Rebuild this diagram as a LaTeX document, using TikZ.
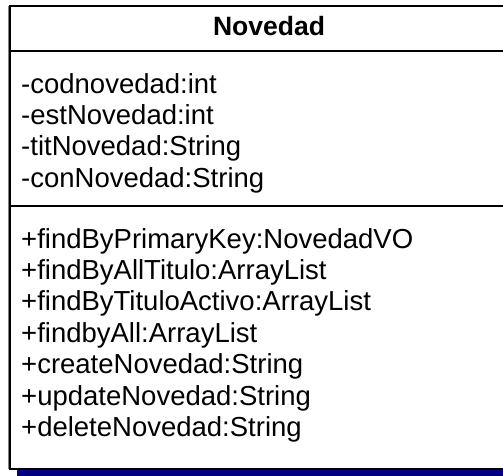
\documentclass[tikz,border=0pt]{standalone}
\usepackage{fontspec}
\setmainfont{Liberation Sans}
\definecolor{shadowblue}{RGB}{0,0,128}
\tikzset{
  member/.style={anchor=base west, inner sep=0pt, font=\fontsize{27.5}{31.4}\selectfont},
  titletext/.style={anchor=base, inner sep=0pt, font=\fontsize{26.5}{31.4}\selectfont\bfseries},
  border/.style={draw=black, line width=2pt},
}
\begin{document}
\begin{tikzpicture}[x=1pt,y=-1pt]
\clip (0,0) rectangle (503,475);
\fill[white] (0,0) rectangle (503,475);
% shadow
\fill[shadowblue] (17,470.2) rectangle (540,476);
% box
\draw[border, fill=white] (10,5.5) rectangle (530,468.5);
\draw[border] (10,51) -- (530,51);
\draw[border] (10,206) -- (530,206);
\draw[gray, line width=0.6pt] (8.6,5.5) -- (8.6,468.5);
% title
\node[titletext] (title) at (269,35) {Novedad};
% attributes
\node[member] (a1) at (21,93) {-codnovedad:int};
\node[member] (a2) at (21,124.4) {-estNovedad:int};
\node[member] (a3) at (21,155.8) {-titNovedad:String};
\node[member] (a4) at (21,187.2) {-conNovedad:String};
% methods
\node[member] (m1) at (21,248) {+findByPrimaryKey:NovedadVO};
\node[member] (m2) at (21,279.4) {+findByAllTitulo:ArrayList};
\node[member] (m3) at (21,310.8) {+findByTituloActivo:ArrayList};
\node[member] (m4) at (21,342.2) {+findbyAll:ArrayList};
\node[member] (m5) at (21,373.6) {+createNovedad:String};
\node[member] (m6) at (21,405) {+updateNovedad:String};
\node[member] (m7) at (21,436.4) {+deleteNovedad:String};
\end{tikzpicture}
\end{document}
